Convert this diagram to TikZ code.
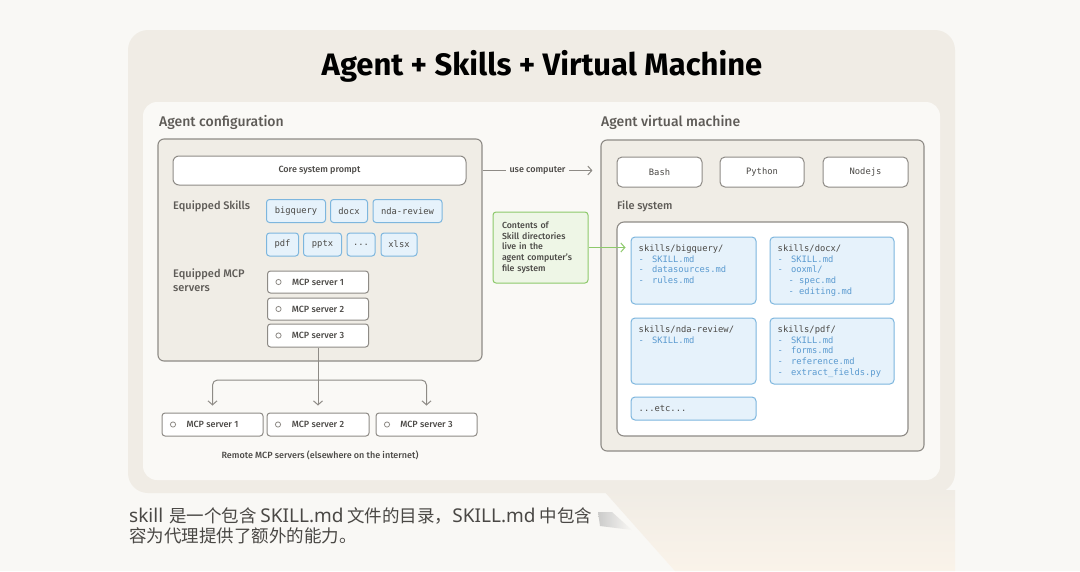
\documentclass[tikz,border=0pt]{standalone}
\usepackage{fontspec}
\setmainfont{Fira Sans}[UprightFont=* Medium, BoldFont=* Bold]
\setmonofont{DejaVu Sans Mono}
\newfontfamily\cjk{Noto Sans CJK SC}
\newfontfamily\capl{Noto Sans}
\usetikzlibrary{arrows.meta,fadings}
\definecolor{pagebg}{HTML}{F9F8F5}
\definecolor{card}{HTML}{F0ECE5}
\definecolor{sheet}{HTML}{FAF9F6}
\definecolor{sand}{HTML}{F0EDE6}
\definecolor{edge}{HTML}{8E8B86}
\definecolor{ink}{HTML}{4A4845}
\definecolor{label}{HTML}{5E5B57}
\definecolor{chipfill}{HTML}{E6F2FB}
\definecolor{chipline}{HTML}{7DB6DE}
\definecolor{fileblue}{HTML}{5A9AD0}
\definecolor{notefill}{HTML}{EEF6E6}
\definecolor{noteline}{HTML}{8DC96B}
\definecolor{peach}{HTML}{FBF0E2}
\newcommand{\fitem}[1]{\textcolor{fileblue}{-\hspace*{8pt}#1}}
\newcommand{\fsub}[1]{\textcolor{fileblue}{\hspace*{10.8pt}-\hspace*{5.4pt}#1}}
\newcommand{\lat}[1]{{\capl\fontsize{19}{20}\selectfont #1}}
\tikzset{
    panel/.style={rectangle, draw=edge, fill=sand, line width=1.1pt, rounded corners=6pt, inner sep=0pt},
    plainbox/.style={rectangle, draw=edge, fill=white, line width=1pt, rounded corners=5pt, inner sep=0pt, text=ink, font=\fontsize{9}{11}\selectfont},
    codebox/.style={plainbox, font=\ttfamily\fontsize{8.8}{10}\selectfont},
    chip/.style={rectangle, draw=chipline, fill=chipfill, line width=1pt, rounded corners=3pt, inner sep=0pt, minimum height=23pt, text=ink, font=\ttfamily\fontsize{8.8}{10}\selectfont},
    server/.style={plainbox, rounded corners=3pt, minimum width=101pt, minimum height=22pt, path picture={\draw[edge, line width=0.8pt] ([xshift=11pt]path picture bounding box.west) circle (2.6pt);}},
    filebox/.style={rectangle, draw=chipline, fill=chipfill, line width=1pt, rounded corners=4pt, inner sep=0pt},
    filetext/.style={anchor=north west, inner sep=0pt, align=left, text=ink, font=\ttfamily\fontsize{8.8}{10.7}\selectfont},
    heading/.style={anchor=base west, inner sep=0pt, text=label, font=\fontsize{14}{16}\selectfont},
    sublabel/.style={inner sep=0pt, text=label, align=left, font=\fontsize{11}{14}\selectfont},
    link/.style={draw=edge, line width=1pt, -{Straight Barb[length=4pt,width=9pt]}}
}
\begin{document}
\begin{tikzpicture}[x=1pt, y=-1pt]
    \useasboundingbox (0,0) rectangle (1080,571);
    \fill[pagebg] (0,0) rectangle (1080,571);
    \shade[top color=card, bottom color=peach!60!pagebg] (603,490) -- (955,490) -- (955,571) -- (675,571) -- cycle;
    \fill[card, rounded corners=20pt] (128,30) rectangle (955,493);
    \fill[sheet, rounded corners=14pt] (143,102) rectangle (940,480);
    \shade[left color=gray!55, right color=pagebg, opacity=0.7] (598,512) -- (612,512) -- (632,530) -- (600,526) -- cycle;

    \node (title) [inner sep=0pt, font=\bfseries\fontsize{31}{33}\selectfont] at (542,66) {Agent + Skills + Virtual Machine};
    \node (cfglabel) [heading] at (159,126) {Agent configuration};
    \node (vmlabel) [heading] at (601,126) {Agent virtual machine};

    \node (cfg) [panel, minimum width=324pt, minimum height=222pt] at (320,250) {};
    \node (prompt) [plainbox, rounded corners=6pt, minimum width=293pt, minimum height=29pt] at (319.5,170.5) {Core system prompt};
    \node (skillslabel) [sublabel, anchor=base west] at (173,209) {Equipped Skills};
    \node (bigquery) [chip, minimum width=59pt] at (296,211) {bigquery};
    \node (docx) [chip, minimum width=37pt] at (349,211) {docx};
    \node (ndareview) [chip, minimum width=69pt] at (407.5,211) {nda-review};
    \node (pdf) [chip, minimum width=32pt] at (282.5,244.5) {pdf};
    \node (pptx) [chip, minimum width=38pt] at (322.5,244.5) {pptx};
    \node (more) [chip, minimum width=28pt] at (361,244.5) {...};
    \node (xlsx) [chip, minimum width=36pt] at (399,244.5) {xlsx};
    \node (mcplabel) [sublabel, anchor=north west] at (173,269) {Equipped MCP\\servers};
    \node (m1) [server] at (318,282) {MCP server 1};
    \node (m2) [server] at (318,309) {MCP server 2};
    \node (m3) [server, minimum height=23pt] at (318,335.5) {MCP server 3};

    \node (r1) [server, minimum height=23pt] at (212.5,424.5) {MCP server 1};
    \node (r2) [server, minimum width=102pt, minimum height=23pt] at (318,424.5) {MCP server 2};
    \node (r3) [server, minimum height=23pt] at (426.5,424.5) {MCP server 3};
    \node (remotelabel) [inner sep=0pt, text=ink, font=\fontsize{9}{11}\selectfont] at (320,455) {Remote MCP servers (elsewhere on the internet)};

    \coordinate (fork) at (m3.south |- 0,380);
    \draw[link, shorten >=7pt] (m3.south) -- (r2.north);
    \draw[link, rounded corners=5pt, shorten >=7pt] (fork) -| (r1.north);
    \draw[link, rounded corners=5pt, shorten >=7pt] (fork) -| (r3.north);

    \node (vm) [panel, minimum width=323pt, minimum height=311pt] at (762.5,295.5) {};
    \node (bash) [codebox, minimum width=85pt, minimum height=30pt] at (659.5,172) {Bash};
    \node (python) [codebox, minimum width=84pt, minimum height=30pt] at (762,172) {Python};
    \node (nodejs) [codebox, minimum width=85pt, minimum height=30pt] at (865.5,172) {Nodejs};
    \node (fslabel) [sublabel, anchor=base west] at (617,209) {File system};
    \node (fs) [plainbox, rounded corners=7pt, line width=1.1pt, minimum width=291pt, minimum height=214pt] at (762.5,329) {};

    \node (fbq) [filebox, minimum width=125pt, minimum height=67pt] at (693.5,270.5) {};
    \node (fdocx) [filebox, minimum width=124pt, minimum height=67pt] at (832,270.5) {};
    \node (fnda) [filebox, minimum width=125pt, minimum height=66pt] at (693.5,351) {};
    \node (fpdf) [filebox, minimum width=124pt, minimum height=66pt] at (832,351) {};
    \node (fetc) [filebox, minimum width=125pt, minimum height=23pt] at (693.5,408.5) {};
    \node (tbq) [filetext] at ([shift={(8pt,-8pt)}]fbq.north west) {skills/bigquery/\\\fitem{SKILL.md}\\\fitem{datasources.md}\\\fitem{rules.md}};
    \node (tdocx) [filetext] at ([shift={(8pt,-8pt)}]fdocx.north west) {skills/docx/\\\fitem{SKILL.md}\\\fitem{ooxml/}\\\fsub{spec.md}\\\fsub{editing.md}};
    \node (tnda) [filetext] at ([shift={(8pt,-8pt)}]fnda.north west) {skills/nda-review/\\\fitem{SKILL.md}};
    \node (tpdf) [filetext] at ([shift={(8pt,-8pt)}]fpdf.north west) {skills/pdf/\\\fitem{SKILL.md}\\\fitem{forms.md}\\\fitem{reference.md}\\\fitem{extract\_fields.py}};
    \node (tetc) [filetext, anchor=west] at ([xshift=8pt]fetc.west) {...etc...};

    \draw[link] (cfg.east |- prompt) -- node[fill=sheet, inner xsep=4pt, inner ysep=1pt, text=ink, font=\fontsize{9}{11}\selectfont] {use computer} ([xshift=-8pt]vm.west |- prompt);
    \node (note) [rectangle, draw=noteline, fill=notefill, line width=1pt, rounded corners=3pt, minimum width=95pt, minimum height=71pt, text width=77pt, align=left, inner xsep=9pt, text=ink, font=\fontsize{8.8}{10.8}\selectfont] at (540.5,247.5) {Contents of\\Skill directories\\live in the\\agent computer's\\file system};
    \draw[noteline, line width=1pt, -{Straight Barb[length=4pt,width=9pt]}, shorten >=5pt] (note.east) -- (fbq.west |- note.east);

    \node (caption) [anchor=north west, inner sep=0pt, align=left, text=ink, font=\cjk\fontsize{17.5}{20.5}\selectfont] at (129,507) {\lat{skill}\hspace{2pt} 是一个包含 \lat{SKILL.md} 文件的目录，\lat{SKILL.md} 中包含\\容为代理提供了额外的能力。};
\end{tikzpicture}
\end{document}
